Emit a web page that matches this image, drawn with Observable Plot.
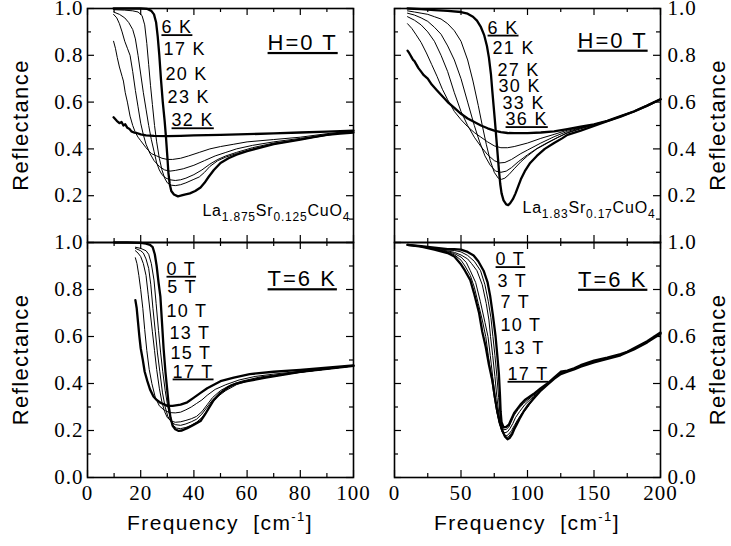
<!DOCTYPE html>
<html><head><meta charset="utf-8">
<script src="https://cdn.jsdelivr.net/npm/d3@7"></script>
<script src="https://cdn.jsdelivr.net/npm/@observablehq/plot@0.6"></script>
<style>
body{margin:0;background:#fff;}
#chart{position:relative;width:731px;height:546px;background:#fff;}
#chart svg{position:absolute;left:0;top:0;}
</style></head><body><div id="chart"></div>
<script>
// ---------- tick values ----------
const xMajorLeft = [0, 20, 40, 60, 80, 100];
const xMinorLeft = [10, 30, 50, 70, 90];
const xMajorRight = [0, 50, 100, 150, 200];
const xMinorRight = [25, 75, 125, 175];
const yMajor = [0, 0.2, 0.4, 0.6, 0.8, 1.0];
const yMinor = [0.1, 0.3, 0.5, 0.7, 0.9];
const yLabelsTop = [0.2, 0.4, 0.6, 0.8, 1.0];
const yLabelsBottom = [0, 0.2, 0.4, 0.6, 0.8, 1.0];

// ---------- top-left: La1.875Sr0.125CuO4, H = 0 T ----------
const tl_6K = [[9.8,1.0],[15,1.0],[20,1.0],[22.5,0.998],[24,0.99],[25,0.975],[25.8,0.94],[26.4,0.88],[27,0.8],[27.6,0.7],[28.3,0.6],[29,0.52],[29.5,0.45],[30,0.37],[30.4,0.3],[30.9,0.25],[31.5,0.22],[32.5,0.205],[34,0.197],[35,0.2],[36.5,0.205],[38.5,0.21],[40.5,0.22],[42.5,0.235],[44,0.255],[45.5,0.28],[47.5,0.31],[50,0.34],[53,0.36],[56,0.375],[60,0.39],[65,0.405],[70,0.42],[75,0.43],[80,0.44],[85,0.45],[90,0.46],[95,0.465],[100,0.47]];
const tl_17K = [[9.8,0.995],[14,0.993],[17,0.99],[19,0.985],[20.5,0.97],[21.5,0.93],[22.3,0.85],[23,0.76],[23.7,0.67],[24.4,0.59],[25.2,0.5],[26,0.43],[27,0.36],[28,0.31],[29,0.275],[30,0.255],[31.5,0.245],[33,0.243],[35,0.247],[37,0.255],[40,0.27],[42,0.28],[44,0.3],[46,0.325],[49,0.35],[52,0.365],[56,0.38],[62,0.4],[70,0.42],[80,0.44],[90,0.458],[100,0.476]];
const tl_20K = [[9.8,0.985],[12,0.975],[14,0.96],[15.5,0.94],[17,0.91],[18,0.87],[19,0.8],[20,0.72],[21,0.64],[22,0.57],[23,0.5],[24,0.44],[25,0.39],[26,0.34],[27,0.31],[28,0.29],[29.5,0.275],[31,0.268],[33,0.265],[35,0.268],[37,0.275],[40,0.29],[43,0.31],[46,0.335],[49,0.355],[52,0.37],[56,0.385],[62,0.405],[70,0.425],[80,0.44],[90,0.46],[100,0.477]];
const tl_23K = [[9.8,0.975],[11,0.96],[12,0.935],[13,0.9],[14,0.86],[15,0.83],[16,0.8],[17,0.73],[18,0.65],[19,0.58],[20,0.51],[21,0.46],[22,0.42],[23.5,0.38],[25,0.35],[27,0.325],[29,0.31],[31,0.305],[33,0.308],[36,0.315],[40,0.33],[44,0.35],[48,0.37],[52,0.385],[56,0.4],[62,0.415],[70,0.43],[80,0.445],[90,0.46],[100,0.478]];
const tl_28K = [[9.8,0.86],[10.5,0.83],[11.2,0.79],[12,0.75],[13,0.71],[13.5,0.69],[14.2,0.64],[15,0.6],[16,0.54],[17,0.5],[18,0.47],[19,0.45],[20,0.435],[22,0.405],[24,0.38],[26,0.37],[28,0.36],[30,0.355],[32,0.355],[35,0.36],[38,0.37],[42,0.385],[46,0.4],[50,0.41],[55,0.42],[60,0.43],[70,0.44],[80,0.45],[90,0.465],[100,0.478]];
const tl_32K = [[9.8,0.535],[11,0.52],[12,0.51],[12.8,0.515],[13.5,0.5],[14.2,0.505],[15,0.49],[15.8,0.485],[16.5,0.475],[17.5,0.47],[18.5,0.468],[20,0.462],[22,0.458],[25,0.456],[30,0.455],[35,0.456],[40,0.458],[50,0.46],[60,0.463],[70,0.466],[80,0.47],[90,0.474],[100,0.478]];

// ---------- top-right: La1.83Sr0.17CuO4, H = 0 T ----------
const tr_6K = [[9.8,1.0],[20,0.997],[30,0.993],[40,0.99],[50,0.985],[55,0.978],[59,0.965],[62,0.948],[65,0.92],[67.5,0.885],[69.5,0.84],[71,0.79],[72.5,0.72],[73.5,0.65],[74.5,0.585],[75.5,0.52],[76.5,0.45],[77.5,0.38],[78.5,0.31],[79.5,0.25],[80.5,0.21],[82,0.18],[84,0.163],[85.5,0.16],[87,0.168],[89,0.185],[91,0.21],[93,0.24],[95,0.27],[98,0.305],[102,0.34],[107,0.37],[113,0.4],[120,0.425],[126,0.445],[130,0.46],[140,0.478],[150,0.498],[160,0.518],[170,0.538],[180,0.56],[190,0.585],[200,0.612]];
const tr_21K = [[9.8,0.99],[15,0.985],[20,0.98],[25,0.975],[30,0.965],[35,0.955],[40,0.935],[45,0.905],[50,0.86],[55,0.78],[59,0.69],[63,0.585],[66,0.5],[69,0.42],[72,0.35],[75,0.3],[78,0.275],[80.5,0.27],[83,0.275],[86,0.29],[90,0.315],[95,0.345],[100,0.37],[107,0.4],[115,0.425],[123,0.45],[130,0.468],[140,0.486],[150,0.502],[160,0.518],[170,0.538],[180,0.56],[190,0.585],[200,0.612]];
const tr_27K = [[9.8,0.98],[15,0.972],[20,0.96],[25,0.945],[30,0.92],[35,0.89],[40,0.84],[45,0.78],[50,0.7],[55,0.6],[60,0.5],[64,0.43],[68,0.37],[72,0.33],[76,0.305],[80,0.3],[84,0.305],[88,0.32],[93,0.345],[100,0.375],[108,0.405],[116,0.43],[124,0.452],[130,0.47],[140,0.488],[150,0.503],[160,0.519],[170,0.539],[180,0.56],[190,0.585],[200,0.612]];
const tr_30K = [[9.8,0.965],[15,0.95],[20,0.93],[25,0.9],[30,0.86],[35,0.8],[40,0.73],[45,0.64],[50,0.56],[55,0.5],[60,0.45],[65,0.41],[70,0.375],[75,0.35],[79,0.34],[83,0.342],[88,0.355],[95,0.38],[100,0.395],[110,0.425],[120,0.452],[130,0.475],[140,0.49],[150,0.505],[160,0.52],[170,0.54],[180,0.56],[190,0.585],[200,0.612]];
const tr_33K = [[9.8,0.935],[13,0.915],[16,0.89],[20,0.855],[24,0.81],[28,0.76],[32,0.71],[36,0.655],[40,0.61],[45,0.56],[50,0.525],[55,0.495],[60,0.47],[65,0.45],[70,0.43],[75,0.413],[80,0.405],[85,0.405],[90,0.41],[100,0.425],[110,0.445],[120,0.462],[130,0.48],[140,0.492],[150,0.505],[160,0.52],[170,0.54],[180,0.56],[190,0.585],[200,0.612]];
const tr_36K = [[9.8,0.82],[11,0.81],[12,0.8],[13,0.79],[14,0.78],[15,0.775],[16.5,0.76],[18,0.745],[20,0.73],[22,0.715],[25,0.7],[28,0.675],[32,0.65],[36,0.625],[40,0.6],[45,0.575],[50,0.55],[55,0.53],[60,0.515],[65,0.5],[70,0.488],[75,0.478],[80,0.472],[85,0.468],[90,0.467],[100,0.467],[110,0.47],[120,0.475],[130,0.485],[140,0.495],[150,0.505],[160,0.52],[170,0.54],[180,0.56],[190,0.585],[200,0.612]];

// ---------- bottom-left: La1.875Sr0.125CuO4, T = 6 K ----------
const bl_0T = [[10,1.0],[15,1.0],[20,0.998],[22,0.995],[23.5,0.99],[24.5,0.98],[25.3,0.95],[26,0.9],[26.7,0.83],[27.4,0.77],[28,0.66],[28.6,0.55],[29.3,0.45],[30,0.37],[30.6,0.3],[31.2,0.255],[32,0.22],[33,0.205],[34.3,0.198],[35.5,0.2],[37.5,0.21],[40,0.225],[42.5,0.24],[44,0.265],[45.6,0.295],[47.5,0.33],[50,0.36],[53,0.385],[56,0.4],[60,0.41],[67,0.425],[75,0.44],[80,0.45],[90,0.462],[100,0.475]];
const bl_5T = [[18,0.98],[20,0.975],[22,0.965],[23,0.95],[24,0.91],[25,0.84],[25.8,0.74],[26.7,0.625],[27.5,0.53],[28.3,0.45],[29.2,0.37],[30.2,0.3],[31.2,0.25],[32.3,0.22],[33.5,0.21],[35,0.208],[37,0.213],[39,0.222],[41,0.235],[43,0.255],[45,0.285],[47,0.32],[49,0.345],[52,0.37],[56,0.395],[60,0.41],[67,0.425],[75,0.44],[85,0.455],[100,0.475]];
const bl_10T = [[18,0.975],[19,0.97],[20,0.965],[21,0.955],[22,0.93],[23,0.89],[23.8,0.82],[24.6,0.72],[25.5,0.62],[26.3,0.53],[27.2,0.45],[28.2,0.36],[29.2,0.3],[30.2,0.26],[31.5,0.235],[33,0.225],[35,0.222],[37,0.228],[39,0.237],[41,0.248],[43,0.27],[45,0.3],[47,0.33],[50,0.36],[54,0.39],[58,0.407],[65,0.425],[75,0.441],[85,0.455],[100,0.475]];
const bl_13T = [[18,0.965],[19,0.955],[20,0.94],[21,0.91],[22,0.86],[22.8,0.78],[23.6,0.7],[24.4,0.62],[25.2,0.54],[26,0.46],[27,0.38],[28,0.32],[29,0.28],[30,0.255],[31.5,0.24],[33,0.235],[35,0.237],[37,0.243],[39,0.25],[41,0.26],[43,0.28],[45,0.31],[47,0.34],[50,0.37],[54,0.395],[58,0.41],[65,0.428],[75,0.443],[85,0.455],[100,0.475]];
const bl_15T = [[18,0.935],[18.6,0.91],[19.3,0.86],[20,0.8],[20.8,0.72],[21.5,0.63],[22.3,0.54],[23.2,0.46],[24.2,0.4],[25.5,0.34],[27,0.305],[29,0.285],[31,0.276],[33,0.275],[35,0.278],[37,0.288],[39,0.3],[41,0.315],[43,0.33],[45,0.35],[48,0.375],[52,0.395],[57,0.415],[63,0.43],[70,0.44],[80,0.452],[90,0.465],[100,0.476]];
const bl_17T = [[18,0.755],[18.5,0.72],[19,0.66],[19.5,0.6],[20,0.55],[20.8,0.5],[21.5,0.45],[22.5,0.41],[23.5,0.375],[24.8,0.345],[26,0.33],[27.4,0.318],[29,0.31],[30,0.305],[32,0.305],[35,0.31],[37.5,0.32],[40,0.34],[42.5,0.36],[45,0.38],[47.5,0.395],[50,0.41],[55,0.425],[61,0.44],[70,0.45],[80,0.458],[90,0.467],[100,0.477]];

// ---------- bottom-right: La1.83Sr0.17CuO4, T = 6 K ----------
const br_0T = [[9.8,0.99],[20,0.985],[30,0.978],[40,0.972],[45,0.972],[50,0.97],[55,0.96],[59.5,0.945],[63,0.92],[67,0.88],[70,0.83],[72,0.77],[74,0.69],[76,0.6],[77.3,0.52],[78.5,0.44],[79.3,0.35],[79.8,0.28],[80.5,0.235],[82,0.213],[84,0.215],[86,0.225],[88,0.25],[90,0.275],[92,0.29],[94.7,0.31],[98,0.33],[104.5,0.355],[110,0.38],[115,0.4],[120,0.425],[125,0.45],[130,0.455],[135,0.465],[140,0.478],[150,0.497],[160,0.51],[170,0.525],[175,0.535],[180,0.55],[190,0.58],[200,0.617]];
const br_3T = [[9.8,0.99],[20,0.984],[30,0.975],[40,0.968],[45,0.966],[50,0.96],[55,0.945],[60,0.92],[64.7,0.88],[68,0.82],[70.5,0.75],[72.5,0.68],[74,0.6],[75.5,0.52],[77,0.43],[78.3,0.34],[79.3,0.27],[80.5,0.22],[82,0.203],[84,0.205],[86,0.215],[88,0.24],[90,0.265],[93,0.29],[97,0.315],[104.5,0.35],[110,0.375],[115,0.4],[120,0.425],[125,0.447],[130,0.453],[140,0.476],[150,0.495],[160,0.508],[170,0.524],[180,0.548],[190,0.578],[200,0.615]];
const br_7T = [[9.8,0.99],[20,0.983],[30,0.973],[40,0.964],[45,0.958],[50,0.947],[55,0.93],[58,0.91],[62,0.88],[66,0.82],[69,0.74],[71,0.67],[72.2,0.6],[73.8,0.52],[75.5,0.43],[77,0.34],[78.5,0.27],[80,0.22],[81.5,0.198],[83,0.19],[85,0.195],[87,0.21],[89,0.23],[91,0.255],[94,0.28],[98,0.31],[104.5,0.345],[110,0.372],[115,0.398],[120,0.423],[125,0.445],[130,0.452],[140,0.475],[150,0.494],[160,0.507],[170,0.523],[180,0.547],[190,0.577],[200,0.614]];
const br_10T = [[9.8,0.99],[20,0.982],[30,0.972],[40,0.961],[45,0.953],[50,0.938],[54,0.915],[57,0.88],[61,0.83],[64.5,0.75],[68,0.66],[70.3,0.6],[72,0.52],[73.8,0.43],[75.5,0.35],[77,0.28],[79,0.23],[81,0.195],[83,0.18],[84.5,0.178],[86,0.185],[88,0.2],[90,0.22],[92.5,0.245],[96,0.275],[100,0.3],[104.5,0.34],[110,0.37],[115,0.396],[120,0.422],[125,0.443],[130,0.451],[140,0.474],[150,0.493],[160,0.506],[170,0.522],[180,0.546],[190,0.576],[200,0.613]];
const br_13T = [[9.8,0.99],[20,0.982],[30,0.971],[40,0.958],[45,0.948],[50,0.925],[53,0.9],[57,0.86],[60,0.81],[63,0.74],[66,0.67],[68.6,0.6],[70.5,0.52],[72.5,0.44],[74.5,0.36],[76.5,0.29],[78.5,0.24],[80.5,0.2],[82.5,0.178],[84.5,0.17],[86,0.175],[88,0.19],[90,0.212],[92.5,0.24],[96,0.27],[100,0.298],[104.5,0.337],[110,0.37],[115,0.395],[120,0.421],[125,0.442],[130,0.45],[140,0.473],[150,0.492],[160,0.505],[170,0.521],[180,0.545],[190,0.576],[200,0.612]];
const br_17T = [[9.8,0.99],[20,0.982],[30,0.97],[40,0.955],[45,0.94],[49.6,0.91],[53,0.88],[57,0.84],[60,0.78],[63.6,0.7],[66,0.62],[68.6,0.555],[71,0.48],[73.7,0.41],[75.5,0.34],[77.4,0.28],[79,0.235],[81,0.2],[83,0.175],[85,0.163],[86.5,0.168],[88.5,0.185],[90,0.205],[92,0.227],[94.5,0.255],[97,0.28],[100,0.305],[104.5,0.335],[110,0.37],[115,0.395],[120,0.42],[125,0.44],[130,0.45],[135,0.46],[140,0.472],[150,0.49],[160,0.505],[170,0.52],[180,0.545],[190,0.575],[200,0.612]];

// ---------- annotations (data coordinates) ----------
const tlLabels = [["6 K",27.8,0.919],["17 K",28.6,0.825],["20 K",29.3,0.72],["23 K",30.1,0.62],["32 K",31.6,0.521]];
const trLabels = [["6 K",70,0.917],["21 K",73.7,0.829],["27 K",77.4,0.737],["30 K",78.2,0.667],["33 K",81.2,0.594],["36 K",83.5,0.526]];
const blLabels = [["0 T",29.7,0.887],["5 T",30,0.808],["10 T",29.7,0.706],["13 T",30.8,0.612],["15 T",31.2,0.53],["17 T",32,0.45]];
const brLabels = [["0 T",76,0.928],["3 T",77.4,0.834],["7 T",79.7,0.744],["10 T",79.7,0.646],["13 T",82,0.548],["17 T",85,0.44]];
const condTop = "H=0 T", condBottom = "T=6 K";
const formulaLeft = [["La",0],["1.875",1],["Sr",0],["0.125",1],["CuO",0],["4",1]];
const formulaRight = [["La",0],["1.83",1],["Sr",0],["0.17",1],["CuO",0],["4",1]];
const underlined = new Set(["6 K","32 K","36 K","0 T","17 T",condTop,condBottom]);
const yTitle = "Reflectance";
const xTitleParts = [["Frequency  [cm",0],["-1",1],["]",0]];

// ---------- layout ----------
const W = 731, H = 546;
const colL = {x0: 87, x1: 353}, colR = {x0: 394, x1: 660};
const rowT = {y0: 8, y1: 242}, rowB = {y0: 242, y1: 477};
const SANS = "Liberation Sans, Arial, sans-serif";
const SERIF = "Liberation Serif, Times New Roman, serif";

function panel({col, row, xDomain, xMajor, xMinor, yLabels, yAnchor, showX, series, thick, labels, cond, condPos, formula, formulaPos}) {
  const fw = col.x1 - col.x0, fh = row.y1 - row.y0;
  const rows = [];
  for (const [name, pts] of Object.entries(series)) for (const [x, y] of pts) rows.push({name, x, y});
  const thin = rows.filter(d => !thick.includes(d.name));
  const bold = rows.filter(d => thick.includes(d.name));
  const lab = labels.map(([text, x, y]) => ({text, x, y}));
  const formulaText = formula.map(d => d[0]).join("");
  const svg = Plot.plot({
    width: W, height: H,
    marginLeft: col.x0, marginRight: W - col.x1, marginTop: row.y0, marginBottom: H - row.y1,
    style: {background: "transparent", fontFamily: SERIF, fontSize: "20px", color: "black", overflow: "visible"},
    x: {domain: xDomain, axis: showX ? "bottom" : null, ticks: xMajor, tickSize: 0, tickPadding: 8, tickFormat: d => String(d), label: null},
    y: {domain: [0, 1], axis: yAnchor, ticks: yLabels, tickSize: 0, tickPadding: yAnchor === "left" ? 4 : 7, tickFormat: d3.format(".1f"), label: null},
    marks: [
      Plot.ruleX(xMajor, {x: d => d, insetTop: fh - 7, stroke: "black", strokeWidth: 1.2}),
      Plot.ruleX(xMajor, {x: d => d, insetBottom: fh - 7, stroke: "black", strokeWidth: 1.2}),
      Plot.ruleX(xMinor, {x: d => d, insetTop: fh - 4, stroke: "black", strokeWidth: 1.2}),
      Plot.ruleX(xMinor, {x: d => d, insetBottom: fh - 4, stroke: "black", strokeWidth: 1.2}),
      Plot.ruleY(yMajor, {y: d => d, insetRight: fw - 7, stroke: "black", strokeWidth: 1.2}),
      Plot.ruleY(yMajor, {y: d => d, insetLeft: fw - 7, stroke: "black", strokeWidth: 1.2}),
      Plot.ruleY(yMinor, {y: d => d, insetRight: fw - 4, stroke: "black", strokeWidth: 1.2}),
      Plot.ruleY(yMinor, {y: d => d, insetLeft: fw - 4, stroke: "black", strokeWidth: 1.2}),
      Plot.line(thin, {x: "x", y: "y", z: "name", stroke: "black", strokeWidth: 1, curve: "linear"}),
      Plot.line(bold, {x: "x", y: "y", z: "name", stroke: "black", strokeWidth: 2.3, curve: "linear"}),
      Plot.frame({stroke: "black", strokeWidth: 1.6}),
      Plot.text(lab, {x: "x", y: "y", text: "text", textAnchor: "start", fontFamily: SANS, fontSize: 18, fill: "black"}),
      Plot.text([cond], {x: condPos[0], y: condPos[1], text: d => d, textAnchor: "start", fontFamily: SANS, fontSize: 22, fill: "black"}),
      Plot.text([formulaText], {x: formulaPos[0], y: formulaPos[1], text: d => d, textAnchor: "start", lineAnchor: "bottom", fontFamily: SANS, fontSize: 16, fill: "black"})
    ]
  });
  const s = d3.select(svg);
  // tick labels: serif, larger
  s.selectAll('g[aria-label$="tick label"]').each(function() {
    this.style.fontSize = "21px";
    this.style.letterSpacing = "1px";
    this.style.fontFamily = SERIF;
  });
  s.selectAll('g[aria-label$="tick label"] text').attr("font-size", 21);
  s.selectAll("text").each(function() {
    const t = this.textContent;
    if (underlined.has(t)) {
      this.style.textDecoration = "underline";
      this.style.letterSpacing = t === cond ? "2px" : "1.3px";
    } else if (labels.some(l => l[0] === t)) {
      this.style.letterSpacing = "1.3px";
    } else if (t === formulaText) {
      const el = d3.select(this).text(null).style("letter-spacing", "0.8px");
      let prev = 0;
      for (const [part, sub] of formula) {
        const ts = el.append("tspan").text(part);
        if (sub !== prev) ts.attr("dy", sub ? 5 : -5);
        if (sub) ts.attr("font-size", 12);
        prev = sub;
      }
    }
  });
  // axis titles
  const cy = (row.y0 + row.y1) / 2;
  const tx = yAnchor === "left" ? 28 : 725;
  s.append("text").attr("transform", `translate(${tx},${cy}) rotate(-90)`)
    .attr("text-anchor", "middle").attr("font-family", SANS).attr("font-size", 22)
    .style("letter-spacing", "1.4px").attr("fill", "black").text(yTitle);
  if (showX) {
    const t = s.append("text").attr("x", (col.x0 + col.x1) / 2).attr("y", 530)
      .attr("text-anchor", "middle").attr("font-family", SANS).attr("font-size", 21)
      .style("letter-spacing", "1.4px").attr("fill", "black");
    let prev = 0;
    for (const [part, sup] of xTitleParts) {
      const ts = t.append("tspan").text(part);
      if (sup !== prev) ts.attr("dy", sup ? -9 : 9);
      if (sup) ts.attr("font-size", 13);
      prev = sup;
    }
  }
  return svg;
}

const chart = document.getElementById("chart");
chart.append(panel({col: colL, row: rowT, xDomain: [0, 100], xMajor: xMajorLeft, xMinor: xMinorLeft, yLabels: yLabelsTop, yAnchor: "left", showX: false,
  series: {tl_6K, tl_17K, tl_20K, tl_23K, tl_28K, tl_32K}, thick: ["tl_6K", "tl_32K"], labels: tlLabels,
  cond: condTop, condPos: [67.7, 0.853], formula: formulaLeft, formulaPos: [43.2, 0.115]}));
chart.append(panel({col: colR, row: rowT, xDomain: [0, 200], xMajor: xMajorRight, xMinor: xMinorRight, yLabels: yLabelsTop, yAnchor: "right", showX: false,
  series: {tr_6K, tr_21K, tr_27K, tr_30K, tr_33K, tr_36K}, thick: ["tr_6K", "tr_36K"], labels: trLabels,
  cond: condTop, condPos: [137.6, 0.863], formula: formulaRight, formulaPos: [96.2, 0.124]}));
chart.append(panel({col: colL, row: rowB, xDomain: [0, 100], xMajor: xMajorLeft, xMinor: xMinorLeft, yLabels: yLabelsBottom, yAnchor: "left", showX: true,
  series: {bl_0T, bl_5T, bl_10T, bl_13T, bl_15T, bl_17T}, thick: ["bl_0T", "bl_17T"], labels: blLabels,
  cond: condBottom, condPos: [67.7, 0.844], formula: [], formulaPos: [0, 0]}));
chart.append(panel({col: colR, row: rowB, xDomain: [0, 200], xMajor: xMajorRight, xMinor: xMinorRight, yLabels: yLabelsBottom, yAnchor: "right", showX: true,
  series: {br_0T, br_3T, br_7T, br_10T, br_13T, br_17T}, thick: ["br_0T", "br_17T"], labels: brLabels,
  cond: condBottom, condPos: [138, 0.842], formula: [], formulaPos: [0, 0]}));
</script></body></html>
